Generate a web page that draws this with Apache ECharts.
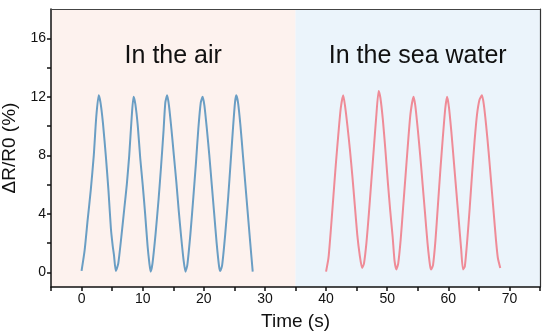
<!DOCTYPE html>
<html>
<head>
<meta charset="utf-8">
<script src="https://cdn.jsdelivr.net/npm/echarts@6/dist/echarts.min.js"></script>
<style>html,body{margin:0;padding:0;background:#fff}#c{width:550px;height:335px}</style>
</head>
<body>
<div id="c"></div>
<script>
// ---- data (time s, ΔR/R0 %) ----
const airTime = [0.0,0.5,1.0,1.5,2.0,2.4,2.8,3.1,3.5,4.0,4.4,4.8,5.1,5.3,5.6,6.0,
  6.5,7.0,7.4,7.8,8.2,8.5,8.8,9.2,9.6,10.0,10.4,10.8,11.1,11.3,11.6,
  12.1,12.6,13.0,13.4,13.7,14.0,14.3,14.7,15.1,15.5,15.9,16.3,16.7,17.0,17.3,
  17.8,18.3,18.7,19.1,19.5,19.8,20.1,20.5,20.9,21.3,21.7,22.1,22.5,22.7,23.0,
  23.5,24.0,24.4,24.8,25.1,25.3,25.6,26.0,26.4,26.8,27.2,27.6,28.0];
const airValue = [0.1,1.5,3.6,5.6,8.0,10.6,12.1,11.6,10.2,7.8,5.6,3.0,1.8,1.2,0.1,0.6,
  2.4,4.4,6.0,8.0,10.6,12.0,11.5,10.0,7.8,6.0,4.0,1.8,0.6,0.05,0.6,
  2.6,5.0,7.2,9.6,11.6,12.1,11.4,9.8,8.0,6.2,4.2,2.4,0.8,0.05,0.5,
  2.6,5.2,7.4,9.8,11.6,12.0,11.4,9.8,8.0,6.0,4.0,2.0,0.4,0.1,0.5,
  2.6,5.2,7.6,10.0,11.6,12.1,11.6,10.0,8.0,6.0,4.0,2.0,0.05];
const seaTime = [40.0,40.4,40.8,41.2,41.6,42.0,42.4,42.8,43.1,43.5,43.9,44.3,44.7,45.1,45.5,45.9,46.2,
  46.6,47.0,47.4,47.8,48.2,48.6,48.9,49.3,49.7,50.1,50.5,50.9,51.2,51.5,51.8,
  52.2,52.6,53.0,53.4,53.8,54.3,54.6,55.0,55.4,55.8,56.2,56.6,57.0,57.2,57.5,
  57.9,58.3,58.7,59.1,59.5,59.8,60.1,60.5,60.9,61.3,61.7,62.1,62.4,62.7,
  63.1,63.5,63.9,64.3,64.7,65.1,65.5,65.8,66.2,66.6,67.0,67.4,67.8,68.1,68.5];
const seaValue = [0.05,1.0,3.0,5.2,7.4,9.4,11.2,12.1,11.4,10.0,8.4,6.6,4.6,2.6,1.2,0.3,0.6,
  2.0,4.0,6.2,8.4,10.6,12.4,11.9,10.4,8.4,6.2,4.2,2.4,0.8,0.2,0.6,
  2.2,4.4,6.6,8.8,10.8,12.0,11.4,9.8,8.0,6.0,4.0,2.0,0.5,0.2,0.5,
  2.2,4.6,7.0,9.2,11.2,12.0,11.3,9.6,7.6,5.6,3.6,1.6,0.2,0.4,
  2.2,4.4,6.8,9.0,10.8,11.8,12.1,11.5,10.0,8.2,6.2,4.2,2.2,1.0,0.3];
const xTickLabels = [0,10,20,30,40,50,60,70];
const xTicks = [-5,0,5,10,15,20,25,30,35,40,45,50,55,60,65,70,75];
const yTickLabels = [0,4,8,12,16];
const yTicks = [0,2,4,6,8,10,12,14,16];
const regions = [[-5,35,'In the air'],[35,75,'In the sea water']];
const xRange = [-5,75];
const yRange = [-1,18];

const FONT = 'Arial, "Liberation Sans", sans-serif';
const chart = echarts.init(document.getElementById('c'), null, {renderer:'canvas'});
const zip = (a,b)=>a.map((v,i)=>[v,b[i]]);
chart.setOption({
  animation:false,
  grid:{left:51,right:10,top:9,bottom:48,containLabel:false,outerBoundsMode:'none'},
  xAxis:[{
    type:'value',min:xRange[0],max:xRange[1],z:10,
    name:'Time (s)',nameLocation:'middle',nameGap:25,
    nameTextStyle:{fontFamily:FONT,fontSize:19,color:'#111'},
    axisLine:{show:true,onZero:false,lineStyle:{color:'#111',width:1.5}},
    axisTick:{show:true,inside:false,length:4,customValues:xTicks,lineStyle:{color:'#111',width:1.5}},
    axisLabel:{customValues:xTickLabels,fontFamily:FONT,fontSize:14,color:'#111',margin:5},
    splitLine:{show:false}
  },{
    type:'value',min:xRange[0],max:xRange[1],position:'top',z:10,
    axisLine:{show:true,onZero:false,lineStyle:{color:'#444',width:1.2}},
    axisTick:{show:false},axisLabel:{show:false},splitLine:{show:false}
  }],
  yAxis:[{
    type:'value',min:yRange[0],max:yRange[1],z:10,
    name:'ΔR/R0 (%)',nameLocation:'middle',nameGap:29,nameRotate:90,
    nameTextStyle:{fontFamily:FONT,fontSize:19,color:'#111'},
    axisLine:{show:true,onZero:false,lineStyle:{color:'#111',width:1.5}},
    axisTick:{show:true,inside:false,length:4,customValues:yTicks,lineStyle:{color:'#111',width:1.5}},
    axisLabel:{customValues:yTickLabels,fontFamily:FONT,fontSize:14,color:'#111',margin:5},
    splitLine:{show:false}
  },{
    type:'value',min:yRange[0],max:yRange[1],position:'right',z:10,
    axisLine:{show:true,onZero:false,lineStyle:{color:'#333',width:1.2}},
    axisTick:{show:false},axisLabel:{show:false},splitLine:{show:false}
  }],
  series:[{
    type:'line',name:'air',data:zip(airTime,airValue),showSymbol:false,smooth:0.2,
    lineStyle:{color:'#6a9ec4',width:2},
    markArea:{silent:true,
      label:{show:true,position:'insideTop',distance:35,fontFamily:FONT,fontSize:25,color:'#111'},
      data:[
        [{name:regions[0][2],xAxis:regions[0][0],yAxis:yRange[0],itemStyle:{color:'#fdf2ee'}},{xAxis:regions[0][1],yAxis:yRange[1]}],
        [{name:regions[1][2],xAxis:regions[1][0],yAxis:yRange[0],itemStyle:{color:'#ebf4fb'}},{xAxis:regions[1][1],yAxis:yRange[1]}]
      ]}
  },{
    type:'line',name:'sea',data:zip(seaTime,seaValue),showSymbol:false,smooth:0.2,
    lineStyle:{color:'#ef8b97',width:2}
  }]
});
</script>
</body>
</html>
